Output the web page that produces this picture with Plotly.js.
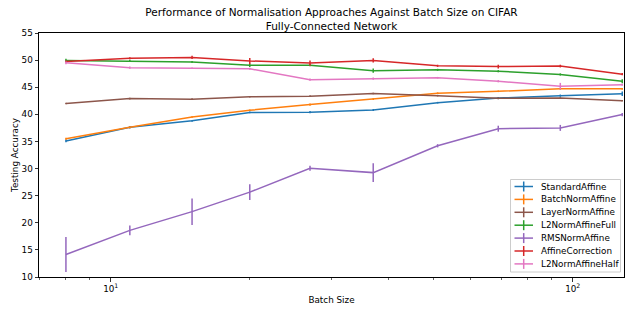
<!DOCTYPE html>
<html>
<head>
<meta charset="utf-8">
<script src="https://cdn.plot.ly/plotly-3.0.1.min.js"></script>
<style>html,body{margin:0;padding:0;background:#fff;}#chart{width:634px;height:317px;}</style>
</head>
<body>
<div id="chart"></div>
<script>
var batchSizes = [8, 11, 15, 20, 27, 37, 51, 69, 94, 128];

var seriesNames = ['StandardAffine', 'BatchNormAffine', 'LayerNormAffine', 'L2NormAffineFull', 'RMSNormAffine', 'AffineCorrection', 'L2NormAffineHalf'];

var standardAffine = [35.1, 37.6, 38.8, 40.35, 40.4, 40.8, 42.15, 43.0, 43.45, 43.8];
var standardAffineErr = [0.25, 0.2, 0.15, 0.15, 0.2, 0.2, 0.15, 0.2, 0.2, 0.4];

var batchNormAffine = [35.5, 37.6, 39.5, 40.75, 41.8, 42.8, 43.9, 44.25, 44.7, 44.7];
var batchNormAffineErr = [0.2, 0.15, 0.15, 0.15, 0.2, 0.15, 0.15, 0.15, 0.15, 0.15];

var layerNormAffine = [42.0, 42.9, 42.8, 43.25, 43.35, 43.85, 43.45, 42.95, 43.0, 42.5];
var layerNormAffineErr = [0.15, 0.15, 0.15, 0.15, 0.15, 0.15, 0.15, 0.15, 0.15, 0.15];

var l2NormAffineFull = [49.95, 49.85, 49.65, 49.05, 49.05, 48.05, 48.2, 47.95, 47.35, 46.1];
var l2NormAffineFullErr = [0.3, 0.2, 0.2, 0.3, 0.2, 0.4, 0.2, 0.2, 0.2, 0.35];

var rmsNormAffine = [14.15, 18.6, 22.05, 25.65, 30.05, 29.25, 34.2, 37.35, 37.5, 39.95];
var rmsNormAffineErr = [3.25, 0.9, 2.45, 1.45, 0.45, 1.75, 0.3, 0.55, 0.55, 0.3];

var affineCorrection = [49.75, 50.35, 50.5, 49.85, 49.45, 49.95, 48.95, 48.8, 48.9, 47.4];
var affineCorrectionErr = [0.2, 0.2, 0.3, 0.55, 0.5, 0.4, 0.2, 0.35, 0.25, 0.2];

var l2NormAffineHalf = [49.5, 48.6, 48.5, 48.4, 46.4, 46.6, 46.75, 46.1, 45.2, 45.45];
var l2NormAffineHalfErr = [0.25, 0.2, 0.15, 0.2, 0.2, 0.2, 0.15, 0.2, 0.6, 0.2];

var yTickVals = [10, 15, 20, 25, 30, 35, 40, 45, 50, 55];
var xTickVals = [10, 100];
var xTickText = ['10<sup>1</sup>', '10<sup>2</sup>'];
var xMinorTickVals = [7, 8, 9, 20, 30, 40, 50, 60, 70, 80, 90];

var colors = ['#1f77b4', '#ff7f0e', '#8c564b', '#2ca02c', '#9467bd', '#d62728', '#e377c2'];
var values = [standardAffine, batchNormAffine, layerNormAffine, l2NormAffineFull, rmsNormAffine, affineCorrection, l2NormAffineHalf];
var errors = [standardAffineErr, batchNormAffineErr, layerNormAffineErr, l2NormAffineFullErr, rmsNormAffineErr, affineCorrectionErr, l2NormAffineHalfErr];

var traces = seriesNames.map(function(name, i) {
  return {
    type: 'scatter',
    mode: 'lines',
    name: name,
    x: batchSizes,
    y: values[i],
    showlegend: false,
    line: {color: colors[i], width: 1.5},
    error_y: {type: 'data', array: errors[i], visible: true, color: colors[i], thickness: 1.5, width: 0}
  };
});

var font = {family: 'DejaVu Sans, sans-serif', size: 8.8, color: '#000'};

// legend box (matplotlib-style, lower right), built from seriesNames / colors
var W = 585, H = 244, L = 39, T = 33;
function px(xp) { return (xp - L) / W; }
function py(yp) { return (T + H - yp) / H; }
var shapes = [{
  type: 'rect', xref: 'paper', yref: 'paper', layer: 'above',
  x0: px(510.5), x1: px(620.5), y0: py(179.5), y1: py(272),
  fillcolor: 'rgba(255,255,255,0.8)', line: {color: '#cccccc', width: 1}
}];
var annotations = [];
seriesNames.forEach(function(name, i) {
  var yc = 186.5 + i * 12.9;
  shapes.push({type: 'line', xref: 'paper', yref: 'paper', layer: 'above',
    x0: px(514.5), x1: px(533), y0: py(yc), y1: py(yc), line: {color: colors[i], width: 1.5}});
  shapes.push({type: 'line', xref: 'paper', yref: 'paper', layer: 'above',
    x0: px(523.7), x1: px(523.7), y0: py(yc - 5), y1: py(yc + 5), line: {color: colors[i], width: 1.5}});
  annotations.push({xref: 'paper', yref: 'paper', x: px(538.5), y: py(yc), xanchor: 'left', yanchor: 'middle',
    text: name, showarrow: false, font: font});
});

var layout = {
  width: 634,
  height: 317,
  margin: {l: L, r: 634 - L - W, t: T, b: 317 - T - H, pad: 0},
  paper_bgcolor: '#fff',
  plot_bgcolor: '#fff',
  font: font,
  showlegend: false,
  title: {
    text: 'Performance of Normalisation Approaches Against Batch Size on CIFAR<br>Fully-Connected Network',
    font: {family: 'DejaVu Sans, sans-serif', size: 10.5, color: '#000'},
    x: 0.5, xref: 'paper', xanchor: 'center',
    y: 1 - 16 / 317, yref: 'container', yanchor: 'top'
  },
  xaxis: {
    type: 'log',
    range: [0.8448, 2.111],
    showgrid: false,
    zeroline: false,
    showline: true, mirror: true, linecolor: '#000', linewidth: 1,
    ticks: 'outside', ticklen: 3.5, tickwidth: 0.8, tickcolor: '#000',
    tickmode: 'array', tickvals: xTickVals, ticktext: xTickText,
    tickfont: font,
    minor: {tickmode: 'array', tickvals: xMinorTickVals, ticks: 'outside', ticklen: 2, tickwidth: 0.6, tickcolor: '#000', showgrid: false},
    title: {text: 'Batch Size', font: font, standoff: 3}
  },
  yaxis: {
    range: [10, 55],
    showgrid: false,
    zeroline: false,
    showline: true, mirror: true, linecolor: '#000', linewidth: 1,
    ticks: 'outside', ticklen: 3.5, tickwidth: 0.8, tickcolor: '#000',
    tickmode: 'array', tickvals: yTickVals,
    tickfont: font,
    title: {text: 'Testing Accuracy', font: font, standoff: 1}
  },
  shapes: shapes,
  annotations: annotations
};

Plotly.newPlot('chart', traces, layout, {displayModeBar: false, staticPlot: true});
</script>
</body>
</html>
